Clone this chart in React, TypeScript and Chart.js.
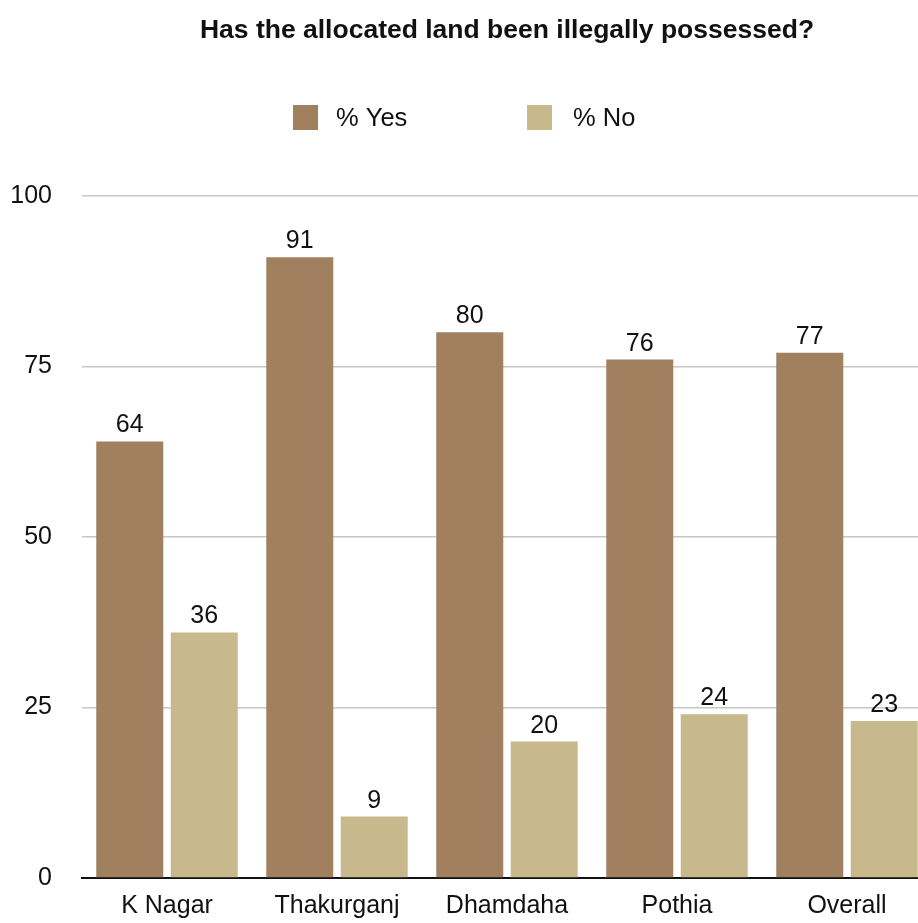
import React, { useEffect, useRef } from "react";
import { Chart, registerables } from "chart.js";

Chart.register(...registerables);

const TITLE = "Has the allocated land been illegally possessed?";
const categories = ["K Nagar", "Thakurganj", "Dhamdaha", "Pothia", "Overall"];
const yesValues = [64, 91, 80, 76, 77];
const noValues = [36, 9, 20, 24, 23];
const seriesNames = ["% Yes", "% No"];
const seriesColors = ["#A0805F", "#C7B98B"];
const yTicks = [0, 25, 50, 75, 100];

const FONT = 'Helvetica, Arial, "Liberation Sans", sans-serif';
const TEXT = "#111111";

const valueLabels = {
  id: "valueLabels",
  afterDatasetsDraw(chart: any) {
    const ctx = chart.ctx;
    ctx.save();
    ctx.font = `25px ${FONT}`;
    ctx.fillStyle = TEXT;
    ctx.textAlign = "center";
    ctx.textBaseline = "alphabetic";
    chart.data.datasets.forEach((ds: any, di: number) => {
      const meta = chart.getDatasetMeta(di);
      meta.data.forEach((el: any, i: number) => {
        ctx.fillText(String(ds.data[i]), el.x, el.y - 9);
      });
    });
    ctx.restore();
  },
};

const customLegend = {
  id: "customLegend",
  afterDraw(chart: any) {
    const ctx = chart.ctx;
    const items = [
      { box: 293, text: 336 },
      { box: 527, text: 573 },
    ];
    ctx.save();
    ctx.font = `25.5px ${FONT}`;
    ctx.textAlign = "left";
    ctx.textBaseline = "middle";
    chart.data.datasets.forEach((ds: any, i: number) => {
      const it = items[i];
      ctx.fillStyle = ds.backgroundColor;
      ctx.fillRect(it.box, 105, 25, 25);
      ctx.fillStyle = TEXT;
      ctx.fillText(ds.label, it.text, 118.5);
    });
    ctx.restore();
  },
};

export default function App() {
  const ref = useRef<HTMLCanvasElement | null>(null);

  useEffect(() => {
    document.body.style.margin = "0";
    document.body.style.overflow = "hidden";
    const canvas = ref.current;
    if (!canvas) return;
    const chart = new Chart(canvas, {
      type: "bar",
      data: {
        labels: categories,
        datasets: [
          {
            label: seriesNames[0],
            data: yesValues,
            backgroundColor: seriesColors[0],
            categoryPercentage: 0.876,
            barPercentage: 0.9,
          },
          {
            label: seriesNames[1],
            data: noValues,
            backgroundColor: seriesColors[1],
            categoryPercentage: 0.876,
            barPercentage: 0.9,
          },
        ],
      },
      options: {
        responsive: false,
        animation: false,
        devicePixelRatio: 1,
        layout: { padding: { left: 0, right: 8, top: 0, bottom: 0 } },
        plugins: {
          legend: { display: false },
          tooltip: { enabled: false },
          title: {
            display: true,
            text: TITLE,
            fullSize: false,
            color: TEXT,
            font: { family: FONT, size: 26.5, weight: "bold" },
            padding: { top: 15, bottom: 149 },
          },
        },
        scales: {
          x: {
            type: "category",
            grid: { display: false, drawTicks: false },
            border: { display: true, color: "#111111", width: 2 },
            ticks: {
              color: TEXT,
              font: { family: FONT, size: 25 },
              padding: 13,
              maxRotation: 0,
              autoSkip: false,
            },
            afterFit(scale: any) {
              scale.height = 42;
            },
          },
          y: {
            min: 0,
            max: 100,
            afterBuildTicks(scale: any) {
              scale.ticks = yTicks.map((v) => ({ value: v }));
            },
            grid: { color: "#c6c6c6", lineWidth: 1.5, drawTicks: false },
            border: { display: false },
            ticks: {
              color: TEXT,
              font: { family: FONT, size: 25 },
              padding: 30,
            },
            afterFit(scale: any) {
              scale.width = 82;
            },
          },
        },
      },
      plugins: [valueLabels, customLegend],
    });
    return () => chart.destroy();
  }, []);

  return (
    <div style={{ position: "fixed", left: 0, top: 0, width: 940, height: 923, background: "#fff" }}>
      <canvas ref={ref} width={940} height={923} style={{ width: 940, height: 923, display: "block" }} />
    </div>
  );
}
